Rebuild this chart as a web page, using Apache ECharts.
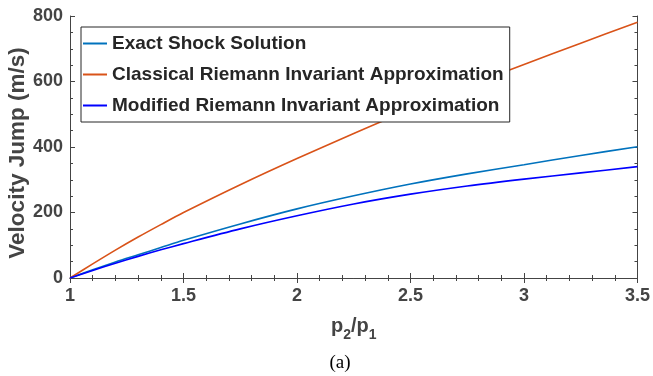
<!DOCTYPE html>
<html>
<head>
<meta charset="utf-8">
<script src="https://cdn.jsdelivr.net/npm/echarts@6/dist/echarts.min.js"></script>
<style>
  html, body { margin: 0; padding: 0; background: #fff; }
  #chart { width: 653px; height: 376px; }
</style>
</head>
<body>
<div id="chart"></div>
<script>
// pressure ratio p2/p1
const ratio = [1, 1.1, 1.2, 1.3, 1.4, 1.5, 1.75, 2, 2.25, 2.5, 2.75, 3, 3.25, 3.5]
// velocity jump (m/s)
const exactShock = [0, 25, 49, 71, 93, 115, 165, 211, 251, 287, 318, 346, 374, 401]
const classical = [0, 43, 85, 125, 163, 200, 285, 365, 441, 515, 585, 652, 717, 781]
const modified = [0, 23, 45, 66, 86, 105, 150, 190, 226, 256, 281, 302, 321, 340]

const seriesNames = [
  'Exact Shock Solution',
  'Classical Riemann Invariant Approximation',
  'Modified Riemann Invariant Approximation',
]
const seriesColors = ['#0072BD', '#D95319', '#0000FF']

const axisGray = '#444'
const font = 'Liberation Sans, Arial, Helvetica, sans-serif'

const pairs = (ys) => ratio.map((x, i) => [x, ys[i]])

function boxAxis(extra) {
  return Object.assign({
    type: 'value',
    axisLine: { show: true, lineStyle: { color: axisGray, width: 1 } },
    axisTick: { show: true, inside: true, length: 5, lineStyle: { color: axisGray } },
    splitLine: { show: false },
  }, extra)
}

const chart = echarts.init(document.getElementById('chart'))

chart.setOption({
  animation: false,
  grid: { left: 70, right: 15, top: 16, bottom: 98 },
  legend: {
    orient: 'vertical',
    left: 81,
    top: 27,
    padding: [7, 6, 7, 2],
    icon: 'rect',
    itemWidth: 24,
    itemHeight: 2,
    itemGap: 12,
    borderColor: '#262626',
    borderWidth: 1,
    backgroundColor: '#fff',
    textStyle: { fontFamily: font, fontWeight: 'bold', fontSize: 19, color: '#262626' },
    data: seriesNames,
  },
  xAxis: [
    boxAxis({
      min: 1, max: 3.5, interval: 0.5,
      minorTick: { show: true, splitNumber: 5, length: 3, lineStyle: { color: axisGray } },
      axisLabel: { fontFamily: font, fontWeight: 'bold', fontSize: 18, color: axisGray, margin: 9 },
      name: '{p|p}{s|2}{p|/p}{s|1}',
      nameLocation: 'middle',
      nameGap: 34,
      nameTextStyle: {
        rich: {
          p: { fontFamily: font, fontWeight: 'bold', fontSize: 20, color: axisGray, verticalAlign: 'bottom', lineHeight: 24 },
          s: { fontFamily: font, fontWeight: 'bold', fontSize: 14, color: axisGray, verticalAlign: 'bottom', lineHeight: 14, padding: [0, 0, -6, 0] },
        },
      },
    }),
    boxAxis({
      position: 'top',
      min: 1, max: 3.5, interval: 0.5,
      minorTick: { show: true, splitNumber: 5, length: 3, lineStyle: { color: axisGray } },
      axisLabel: { show: false },
    }),
  ],
  yAxis: [
    boxAxis({
      min: 0, max: 800, interval: 200,
      minorTick: { show: true, splitNumber: 4, length: 3, lineStyle: { color: axisGray } },
      axisLabel: { fontFamily: font, fontWeight: 'bold', fontSize: 18, color: axisGray, margin: 7 },
    }),
    boxAxis({
      position: 'right',
      min: 0, max: 800, interval: 200,
      minorTick: { show: true, splitNumber: 4, length: 3, lineStyle: { color: axisGray } },
      axisLabel: { show: false },
    }),
  ],
  series: [exactShock, classical, modified].map((ys, i) => ({
    name: seriesNames[i],
    type: 'line',
    smooth: 0.3,
    symbol: 'none',
    data: pairs(ys),
    lineStyle: { color: seriesColors[i], width: 1.6 },
    itemStyle: { color: seriesColors[i] },
    z: i === 2 ? 3 : 2,
  })),
  graphic: [
    {
      type: 'text',
      x: 18,
      y: 153,
      rotation: Math.PI / 2,
      style: {
        text: 'Velocity Jump (m/s)',
        font: 'bold 22.5px "Liberation Sans", Arial, sans-serif',
        fill: axisGray,
        align: 'center',
        verticalAlign: 'middle',
      },
    },
    {
      type: 'text',
      x: 340,
      y: 363,
      style: {
        text: '(a)',
        font: '19px "Liberation Serif", "DejaVu Serif", serif',
        fill: '#000',
        align: 'center',
        verticalAlign: 'middle',
      },
    },
  ],
})
</script>
</body>
</html>
